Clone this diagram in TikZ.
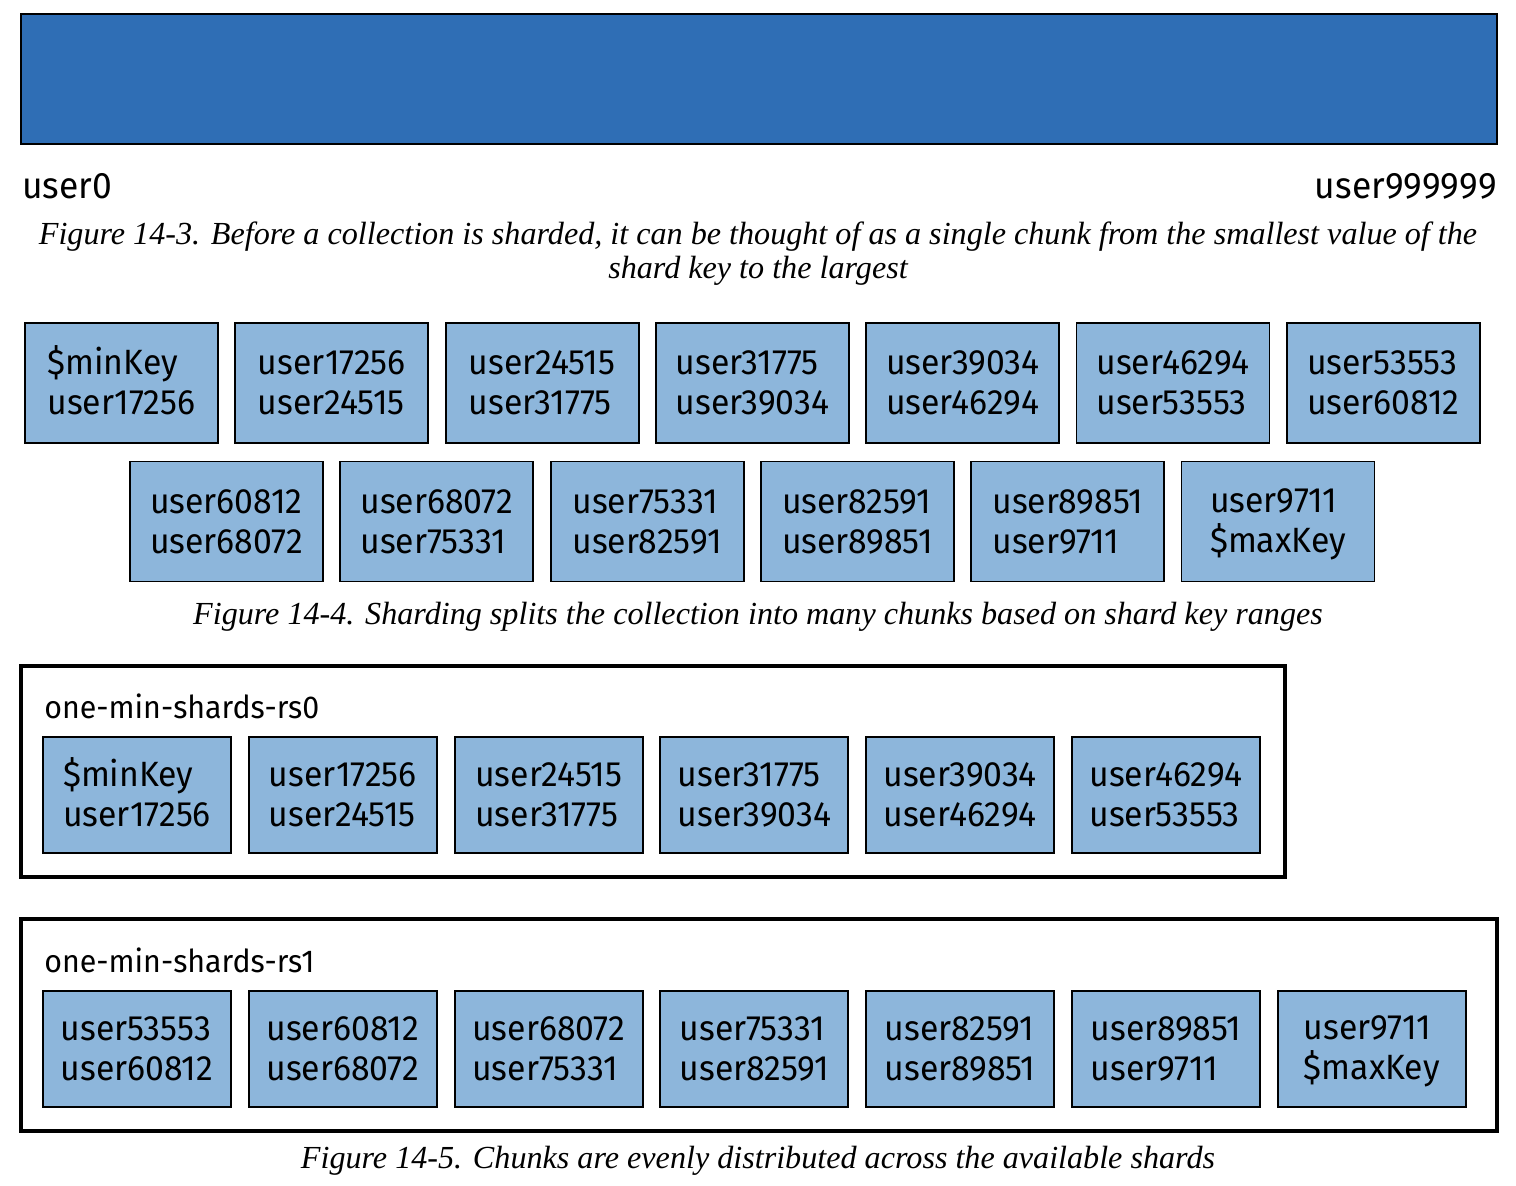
\documentclass[tikz,border=0pt]{standalone}
\usepackage{fontspec}
\setmainfont{Liberation Serif}
\newfontfamily\chunkfont[FakeStretch=0.96]{Fira Sans}
\definecolor{chunkblue}{RGB}{141,182,219}
\definecolor{rangeblue}{RGB}{47,110,181}
\newcommand{\keypair}[2]{\vphantom{\$}#1\\\vphantom{\$}#2}
\begin{document}
\begin{tikzpicture}[
			x = 0.02cm, y = -0.02cm,
			chunk/.style = {draw = black, line width = 1.1pt, fill = chunkblue,
				minimum width = 3.86cm, minimum height = 2.4cm, inner sep = 0pt,
				align = left, font = \chunkfont\fontsize{20}{22.8}\selectfont},
			shardchunk/.style = {chunk, minimum width = 3.76cm, minimum height = 2.32cm},
			shardbox/.style = {draw = black, line width = 2.3pt, inner sep = 0pt},
			keylabel/.style = {inner sep = 0pt, font = \chunkfont\fontsize{21}{24}\selectfont},
			shardlabel/.style = {inner sep = 0pt, anchor = base west, font = \chunkfont\fontsize{18}{21}\selectfont},
			caption/.style = {inner sep = 0pt, align = center, font = \itshape\fontsize{18.3}{19.3}\selectfont}]

			\useasboundingbox (0,0) rectangle (1516,1186);

			% Figure 14-3: one chunk
			\node[draw = black, line width = 1.1pt, fill = rangeblue, minimum width = 29.52cm, minimum height = 2.6cm] (range) at (759,79) {};
			\node[keylabel, anchor = base west] (lo) at (22,198) {user0};
			\node[keylabel, anchor = base east] (hi) at (1497,198) {user999999};
			\node[caption] (cap3) at (758,254) {Figure 14-3. Before a collection is sharded, it can be thought of as a single chunk from the smallest value of the\\shard key to the largest};

			% Figure 14-4: many chunks
			\foreach \lo/\hi [count = \i from 0] in {\$minKey/user17256, user17256/user24515, user24515/user31775,
				user31775/user39034, user39034/user46294, user46294/user53553, user53553/user60812}
				\node[chunk] (a\i) at ({121.5 + 210.3*\i},383) {\keypair{\lo}{\hi}};
			\foreach \lo/\hi [count = \i from 0] in {user60812/user68072, user68072/user75331, user75331/user82591,
				user82591/user89851, user89851/user9711, user9711/\$maxKey}
				\node[chunk] (b\i) at ({226.5 + 210.3*\i},521.5) {\keypair{\lo}{\hi}};
			\node[caption, anchor = base] (cap4) at (758,624) {Figure 14-4. Sharding splits the collection into many chunks based on shard key ranges};

			% Figure 14-5: chunks on the shards
			\node[shardbox, minimum width = 25.28cm, minimum height = 4.22cm] (rs0) at (653,771.5) {};
			\node[shardlabel] (rs0name) at (44,718) {one-min-shards-rs0};
			\foreach \lo/\hi [count = \i from 0] in {\$minKey/user17256, user17256/user24515, user24515/user31775,
				user31775/user39034, user39034/user46294, user46294/user53553}
				\node[shardchunk] (s\i) at ({137 + 205.8*\i},795) {\keypair{\lo}{\hi}};

			\node[shardbox, minimum width = 29.52cm, minimum height = 4.24cm] (rs1) at (759,1025) {};
			\node[shardlabel] (rs1name) at (44,972) {one-min-shards-rs1};
			\foreach \lo/\hi [count = \i from 0] in {user53553/user60812, user60812/user68072, user68072/user75331,
				user75331/user82591, user82591/user89851, user89851/user9711, user9711/\$maxKey}
				\node[shardchunk] (t\i) at ({137 + 205.8*\i},1049) {\keypair{\lo}{\hi}};
			\node[caption, anchor = base] (cap5) at (758,1168) {Figure 14-5. Chunks are evenly distributed across the available shards};

		\end{tikzpicture}
\end{document}
